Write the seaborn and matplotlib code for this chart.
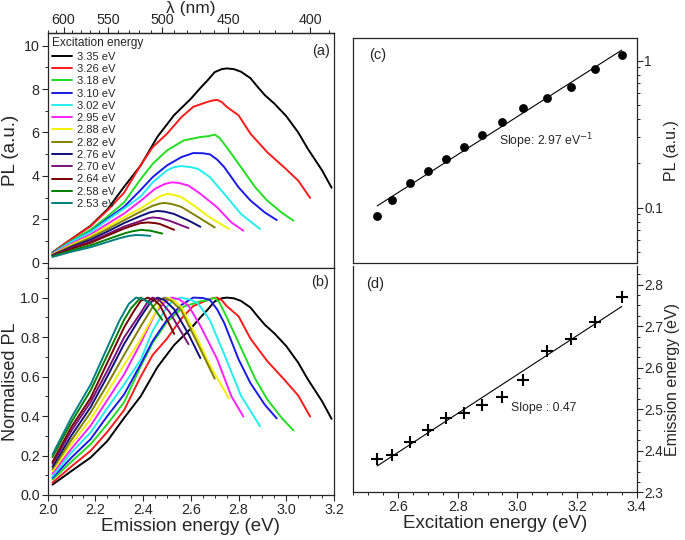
import numpy as np
import pandas as pd
import matplotlib
matplotlib.use("Agg")
import matplotlib.pyplot as plt
import seaborn as sns
from matplotlib.ticker import MultipleLocator, LogLocator, NullFormatter, FormatStrFormatter

# --- PL spectra, panel (a): emission energy (eV) vs PL (a.u.) per excitation energy ---
e_335 = [2.02, 2.10, 2.18, 2.25, 2.32, 2.39, 2.46, 2.53, 2.60, 2.64, 2.67, 2.70, 2.73, 2.75, 2.78, 2.81, 2.85, 2.88, 2.91, 2.95, 3.00, 3.05, 3.09, 3.15, 3.19]
pl_335 = [0.47, 1.09, 1.70, 2.45, 3.49, 4.48, 5.80, 6.80, 7.55, 8.05, 8.40, 8.78, 8.92, 8.95, 8.92, 8.80, 8.50, 8.10, 7.72, 7.33, 6.75, 6.00, 5.25, 4.25, 3.45]
e_326 = [2.02, 2.10, 2.18, 2.25, 2.32, 2.39, 2.44, 2.50, 2.56, 2.61, 2.67, 2.69, 2.71, 2.73, 2.75, 2.80, 2.85, 2.92, 2.99, 3.05, 3.10]
pl_326 = [0.47, 1.09, 1.68, 2.40, 3.22, 4.50, 5.32, 5.94, 6.70, 7.18, 7.41, 7.47, 7.50, 7.40, 7.18, 6.79, 5.94, 5.09, 4.40, 3.78, 2.98]
e_318 = [2.02, 2.10, 2.18, 2.25, 2.32, 2.39, 2.44, 2.50, 2.57, 2.64, 2.67, 2.70, 2.72, 2.75, 2.81, 2.87, 2.92, 2.98, 3.03]
pl_318 = [0.46, 1.00, 1.52, 2.12, 2.77, 3.85, 4.55, 5.17, 5.63, 5.79, 5.82, 5.90, 5.75, 5.32, 4.40, 3.47, 2.86, 2.31, 1.93]
e_310 = [2.02, 2.10, 2.18, 2.25, 2.32, 2.39, 2.44, 2.50, 2.56, 2.61, 2.65, 2.68, 2.71, 2.74, 2.80, 2.85, 2.91, 2.96]
pl_310 = [0.44, 0.96, 1.43, 2.02, 2.57, 3.35, 3.94, 4.48, 4.86, 5.05, 5.04, 4.99, 4.75, 4.40, 3.47, 2.86, 2.31, 1.96]
e_302 = [2.02, 2.10, 2.18, 2.25, 2.32, 2.39, 2.44, 2.50, 2.53, 2.56, 2.60, 2.63, 2.68, 2.74, 2.81, 2.89]
pl_302 = [0.42, 0.96, 1.41, 1.96, 2.49, 3.05, 3.70, 4.25, 4.40, 4.45, 4.40, 4.32, 3.94, 3.17, 2.24, 1.55]
e_295 = [2.02, 2.10, 2.18, 2.25, 2.32, 2.39, 2.45, 2.49, 2.52, 2.55, 2.59, 2.64, 2.71, 2.77, 2.82]
pl_295 = [0.40, 0.87, 1.30, 1.78, 2.26, 2.85, 3.40, 3.62, 3.70, 3.67, 3.55, 3.17, 2.55, 1.85, 1.47]
e_288 = [2.02, 2.10, 2.18, 2.25, 2.32, 2.39, 2.44, 2.47, 2.50, 2.53, 2.56, 2.61, 2.68, 2.76]
pl_288 = [0.38, 0.82, 1.22, 1.65, 2.09, 2.50, 2.85, 3.05, 3.17, 3.12, 3.02, 2.65, 2.08, 1.55]
e_282 = [2.02, 2.10, 2.18, 2.25, 2.32, 2.39, 2.44, 2.47, 2.49, 2.52, 2.56, 2.63, 2.70]
pl_282 = [0.36, 0.77, 1.15, 1.54, 1.95, 2.35, 2.62, 2.72, 2.75, 2.70, 2.57, 2.10, 1.62]
e_276 = [2.02, 2.10, 2.18, 2.25, 2.32, 2.39, 2.43, 2.46, 2.49, 2.53, 2.59, 2.64]
pl_276 = [0.34, 0.72, 1.06, 1.43, 1.82, 2.15, 2.32, 2.38, 2.35, 2.24, 1.94, 1.65]
e_270 = [2.02, 2.10, 2.18, 2.25, 2.32, 2.39, 2.42, 2.44, 2.47, 2.51, 2.59]
pl_270 = [0.33, 0.68, 0.98, 1.31, 1.66, 1.92, 2.04, 2.08, 2.05, 1.93, 1.59]
e_264 = [2.02, 2.10, 2.18, 2.25, 2.32, 2.36, 2.39, 2.42, 2.45, 2.47, 2.53]
pl_264 = [0.31, 0.64, 0.91, 1.24, 1.57, 1.72, 1.82, 1.85, 1.82, 1.78, 1.51]
e_258 = [2.02, 2.10, 2.18, 2.25, 2.32, 2.35, 2.39, 2.43, 2.48]
pl_258 = [0.29, 0.56, 0.80, 1.07, 1.34, 1.43, 1.51, 1.47, 1.34]
e_253 = [2.02, 2.10, 2.18, 2.25, 2.30, 2.34, 2.37, 2.40, 2.43]
pl_253 = [0.26, 0.50, 0.71, 0.95, 1.12, 1.23, 1.27, 1.26, 1.23]

labels = ["3.35 eV", "3.26 eV", "3.18 eV", "3.10 eV", "3.02 eV", "2.95 eV", "2.88 eV",
          "2.82 eV", "2.76 eV", "2.70 eV", "2.64 eV", "2.58 eV", "2.53 eV"]
colors = ["#000000", "#ff1a1a", "#22dd22", "#1a1ae6", "#22eeee", "#ff22ff", "#f2f200",
          "#808000", "#10107a", "#7a107a", "#7a0000", "#008000", "#008080"]
curves = [(e_335, pl_335), (e_326, pl_326), (e_318, pl_318), (e_310, pl_310), (e_302, pl_302),
          (e_295, pl_295), (e_288, pl_288), (e_282, pl_282), (e_276, pl_276), (e_270, pl_270),
          (e_264, pl_264), (e_258, pl_258), (e_253, pl_253)]

# --- panels (c) and (d): peak PL and emission peak vs excitation energy ---
exc_energy = [2.53, 2.58, 2.64, 2.70, 2.76, 2.82, 2.88, 2.95, 3.02, 3.10, 3.18, 3.26, 3.35]
pl_peak = [0.088, 0.113, 0.146, 0.176, 0.213, 0.259, 0.312, 0.380, 0.476, 0.560, 0.663, 0.880, 1.097]
em_peak = [2.38, 2.39, 2.42, 2.45, 2.48, 2.49, 2.51, 2.53, 2.57, 2.64, 2.67, 2.71, 2.77]

rows = []
for lab, (e, pl) in zip(labels, curves):
    for x, y in zip(e, pl):
        rows.append({"exc": lab, "energy": x, "pl": y})
spectra = pd.DataFrame(rows)
spectra["norm"] = spectra["pl"] / spectra.groupby("exc")["pl"].transform("max")
peaks = pd.DataFrame({"exc": exc_energy, "pl": pl_peak, "em": em_peak})

sns.set_style("ticks")
plt.rcParams["font.family"] = ["Liberation Sans", "DejaVu Sans"]
plt.rcParams["axes.linewidth"] = 0.9
plt.rcParams["xtick.major.size"] = 4
plt.rcParams["ytick.major.size"] = 4
plt.rcParams["xtick.minor.size"] = 2.3
plt.rcParams["ytick.minor.size"] = 2.3
plt.rcParams["xtick.major.width"] = 0.8
plt.rcParams["ytick.major.width"] = 0.8
plt.rcParams["xtick.minor.width"] = 0.7
plt.rcParams["ytick.minor.width"] = 0.7

TICK = 10.3
RTICK = 9.8
fig = plt.figure(figsize=(6.85, 5.4), dpi=100)
W, H = 685, 540


def box(l, t, r, b):
    return [l / W, 1 - b / H, (r - l) / W, (b - t) / H]


ax_a = fig.add_axes(box(47.7, 33.3, 334, 268))
ax_b = fig.add_axes(box(47.7, 268, 334, 495))
ax_c = fig.add_axes(box(353.3, 37.7, 636.7, 263))
ax_d = fig.add_axes(box(353.3, 266, 636.7, 492.3))
palette = dict(zip(labels, colors))

# (a) raw spectra
sns.lineplot(data=spectra, x="energy", y="pl", hue="exc", hue_order=labels, palette=palette,
             estimator=None, sort=False, lw=1.4, ax=ax_a)
sns.move_legend(ax_a, "upper left", title="Excitation energy", frameon=False, fontsize=8,
                title_fontsize=8.6, handlelength=1.8, handletextpad=0.5, labelspacing=0.205,
                borderaxespad=0.25, borderpad=0.12, alignment="left")
ax_a.set_xlim(2.0, 3.2)
ax_a.set_ylim(-0.25, 10.57)
ax_a.yaxis.set_major_locator(MultipleLocator(2))
ax_a.yaxis.set_minor_locator(MultipleLocator(1))
ax_a.tick_params(axis="x", which="both", bottom=False, labelbottom=False)
ax_a.tick_params(axis="y", labelsize=TICK, pad=2)
ax_a.set_xlabel("")
ax_a.set_ylabel("PL (a.u.)", fontsize=13.5, labelpad=3)
ax_a.text(0.955, 0.925, "(a)", transform=ax_a.transAxes, ha="center", va="center", fontsize=10.5)


def ev_to_nm(e):
    e = np.asarray(e, dtype=float)
    with np.errstate(divide="ignore"):
        return 1240.0 / e


top = ax_a.secondary_xaxis("top", functions=(ev_to_nm, ev_to_nm))
top.set_xticks([600, 550, 500, 450, 400])
top.xaxis.set_minor_locator(MultipleLocator(10))
top.tick_params(labelsize=TICK, pad=0.5)
top.set_xlabel("λ (nm)", fontsize=12.5, labelpad=0)

# (b) normalised spectra
sns.lineplot(data=spectra, x="energy", y="norm", hue="exc", hue_order=labels, palette=palette,
             estimator=None, sort=False, lw=1.4, ax=ax_b, legend=False)
ax_b.set_xlim(2.0, 3.2)
ax_b.set_ylim(0, 1.15)
ax_b.xaxis.set_major_locator(MultipleLocator(0.2))
ax_b.xaxis.set_minor_locator(MultipleLocator(0.05))
ax_b.yaxis.set_major_locator(MultipleLocator(0.2))
ax_b.yaxis.set_minor_locator(MultipleLocator(0.1))
ax_b.xaxis.set_major_formatter(FormatStrFormatter("%.1f"))
ax_b.yaxis.set_major_formatter(FormatStrFormatter("%.1f"))
ax_b.tick_params(labelsize=TICK, pad=1.5)
ax_b.set_xlabel("Emission energy (eV)", fontsize=13.5, labelpad=1)
ax_b.set_ylabel("Normalised PL", fontsize=13, labelpad=1)
ax_b.text(0.951, 0.938, "(b)", transform=ax_b.transAxes, ha="center", va="center", fontsize=10.5)

# (c) peak PL intensity, log scale with exponential fit
coef_c = np.polyfit(peaks["exc"], np.log(peaks["pl"]), 1)
fit_c = pd.DataFrame({"exc": peaks["exc"], "pl": np.exp(np.polyval(coef_c, peaks["exc"]))})
sns.lineplot(data=fit_c, x="exc", y="pl", color="black", lw=0.8, ax=ax_c)
sns.scatterplot(data=peaks, x="exc", y="pl", color="black", s=34, edgecolor="black", ax=ax_c, zorder=3)
ax_c.set_yscale("log")
ax_c.set_xlim(2.45, 3.4)
ax_c.set_ylim(0.042, 1.43)
ax_c.yaxis.tick_right()
ax_c.yaxis.set_label_position("right")
ax_c.set_yticks([0.1, 1])
ax_c.set_yticklabels(["0.1", "1"])
ax_c.yaxis.set_minor_locator(LogLocator(base=10, subs=np.arange(2, 10)))
ax_c.yaxis.set_minor_formatter(NullFormatter())
ax_c.tick_params(axis="x", which="both", bottom=False, labelbottom=False)
ax_c.tick_params(axis="y", labelsize=RTICK, pad=1.5)
ax_c.set_xlabel("")
ax_c.set_ylabel("PL (a.u.)", fontsize=11.5, labelpad=1)
ax_c.text(0.087, 0.923, "(c)", transform=ax_c.transAxes, ha="center", va="center", fontsize=10.5)
ax_c.text(2.94, 0.285, "Slope: 2.97 eV$^{-1}$", ha="left", va="center", fontsize=8.8)

# (d) emission peak vs excitation energy with linear fit
sns.regplot(data=peaks, x="exc", y="em", scatter=False, ci=None, truncate=True,
            line_kws={"color": "black", "lw": 0.8}, ax=ax_d)
sns.scatterplot(data=peaks, x="exc", y="em", marker="+", color="black", s=65, linewidth=1.5, ax=ax_d)
ax_d.set_xlim(2.45, 3.4)
ax_d.set_ylim(2.3, 2.845)
ax_d.spines["top"].set_visible(False)
ax_d.yaxis.tick_right()
ax_d.yaxis.set_label_position("right")
ax_d.xaxis.set_major_locator(MultipleLocator(0.2))
ax_d.xaxis.set_minor_locator(MultipleLocator(0.05))
ax_d.yaxis.set_major_locator(MultipleLocator(0.1))
ax_d.yaxis.set_minor_locator(MultipleLocator(0.025))
ax_d.xaxis.set_major_formatter(FormatStrFormatter("%.1f"))
ax_d.yaxis.set_major_formatter(FormatStrFormatter("%.1f"))
ax_d.tick_params(axis="x", labelsize=TICK, pad=1.5)
ax_d.tick_params(axis="y", labelsize=RTICK, pad=1.5)
ax_d.set_xlabel("Excitation energy (eV)", fontsize=13.5, labelpad=1)
ax_d.set_ylabel("Emission energy (eV)", fontsize=11.5, labelpad=1)
ax_d.text(0.076, 0.92, "(d)", transform=ax_d.transAxes, ha="center", va="center", fontsize=10.5)
ax_d.text(2.98, 2.504, "Slope : 0.47", ha="left", va="center", fontsize=8.8)

fig.savefig("out.png", dpi=100)
